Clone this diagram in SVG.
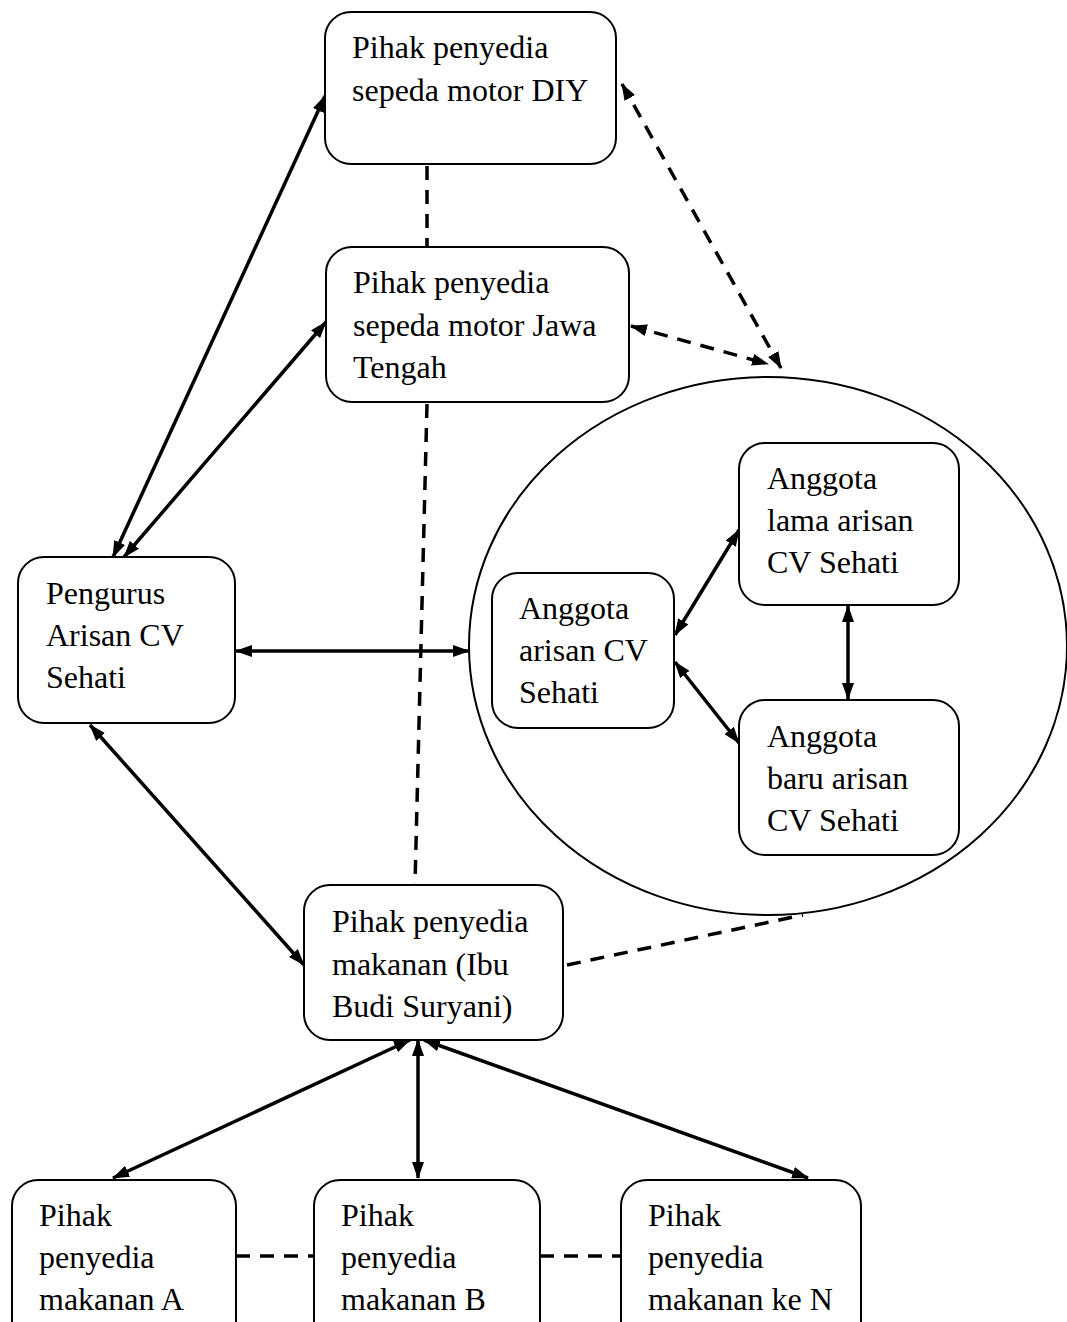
<svg xmlns="http://www.w3.org/2000/svg" width="1067" height="1322" viewBox="0 0 1067 1322">
<defs>
<style>
.box{fill:#fff;stroke:#000;stroke-width:2}
.t{font-family:"Liberation Serif","Times New Roman",serif;font-size:32px;fill:#000}
.c{fill:none;stroke:#000;stroke-width:3.5}
.d{fill:none;stroke:#000;stroke-width:3.5;stroke-dasharray:14 10}
</style>
<marker id="ah" viewBox="0 0 17 12" refX="16" refY="6" markerWidth="17" markerHeight="12" markerUnits="userSpaceOnUse" orient="auto-start-reverse">
<path d="M0,0 L17,6 L0,12 Z" fill="#000"/>
</marker>
</defs>
<rect width="1067" height="1322" fill="#fff"/>
<g id="group-ellipse">
<ellipse cx="768" cy="646" rx="299" ry="269" fill="none" stroke="#000" stroke-width="2"/>
</g>
<g id="connectors">
<line class="d" x1="427" y1="166" x2="427" y2="246"/>
<line class="d" x1="427" y1="404" x2="415" y2="884"/>
<line class="c" x1="325" y1="96" x2="113" y2="557" marker-start="url(#ah)" marker-end="url(#ah)"/>
<line class="c" x1="326" y1="322" x2="124" y2="557" marker-start="url(#ah)" marker-end="url(#ah)"/>
<line class="d" x1="622" y1="84" x2="781" y2="368" marker-start="url(#ah)" marker-end="url(#ah)"/>
<line class="d" x1="631" y1="326" x2="768" y2="364" marker-start="url(#ah)" marker-end="url(#ah)"/>
<line class="c" x1="236" y1="651" x2="469" y2="651" marker-start="url(#ah)" marker-end="url(#ah)"/>
<line class="c" x1="90" y1="725" x2="304" y2="965" marker-start="url(#ah)" marker-end="url(#ah)"/>
<line class="d" x1="567" y1="965" x2="803" y2="915"/>
<line class="c" x1="675" y1="635" x2="739" y2="530" marker-start="url(#ah)" marker-end="url(#ah)"/>
<line class="c" x1="675" y1="662" x2="739" y2="743" marker-start="url(#ah)" marker-end="url(#ah)"/>
<line class="c" x1="848" y1="606" x2="848" y2="699" marker-start="url(#ah)" marker-end="url(#ah)"/>
<line class="c" x1="410" y1="1040" x2="113" y2="1178" marker-start="url(#ah)" marker-end="url(#ah)"/>
<line class="c" x1="418" y1="1040" x2="418" y2="1178" marker-start="url(#ah)" marker-end="url(#ah)"/>
<line class="c" x1="424" y1="1040" x2="808" y2="1178" marker-start="url(#ah)" marker-end="url(#ah)"/>
<line class="d" x1="236" y1="1256" x2="314" y2="1256"/>
<line class="d" x1="540" y1="1256" x2="621" y2="1256"/>
</g>
<g id="node-diy">
<rect class="box" x="325" y="12" width="291" height="152" rx="26"/>
<text class="t" x="352" y="58">Pihak penyedia</text>
<text class="t" x="352" y="101">sepeda motor DIY</text>
</g>
<g id="node-jateng">
<rect class="box" x="326" y="247" width="303" height="155" rx="26"/>
<text class="t" x="353" y="293">Pihak penyedia</text>
<text class="t" x="353" y="336">sepeda motor Jawa</text>
<text class="t" x="353" y="378">Tengah</text>
</g>
<g id="node-pengurus">
<rect class="box" x="18" y="557" width="217" height="166" rx="26"/>
<text class="t" x="46" y="604">Pengurus</text>
<text class="t" x="46" y="646">Arisan CV</text>
<text class="t" x="46" y="688">Sehati</text>
</g>
<g id="node-anggota">
<rect class="box" x="492" y="573" width="182" height="155" rx="26"/>
<text class="t" x="519" y="619">Anggota</text>
<text class="t" x="519" y="661">arisan CV</text>
<text class="t" x="519" y="703">Sehati</text>
</g>
<g id="node-lama">
<rect class="box" x="739" y="443" width="220" height="162" rx="26"/>
<text class="t" x="767" y="489">Anggota</text>
<text class="t" x="767" y="531">lama arisan</text>
<text class="t" x="767" y="573">CV Sehati</text>
</g>
<g id="node-baru">
<rect class="box" x="739" y="700" width="220" height="155" rx="26"/>
<text class="t" x="767" y="747">Anggota</text>
<text class="t" x="767" y="789">baru arisan</text>
<text class="t" x="767" y="831">CV Sehati</text>
</g>
<g id="node-makanan">
<rect class="box" x="304" y="885" width="259" height="155" rx="26"/>
<text class="t" x="332" y="932">Pihak penyedia</text>
<text class="t" x="332" y="975">makanan (Ibu</text>
<text class="t" x="332" y="1017">Budi Suryani)</text>
</g>
<g id="node-a">
<rect class="box" x="12" y="1180" width="224" height="170" rx="26"/>
<text class="t" x="39" y="1226">Pihak</text>
<text class="t" x="39" y="1268">penyedia</text>
<text class="t" x="39" y="1310">makanan A</text>
</g>
<g id="node-b">
<rect class="box" x="314" y="1180" width="226" height="170" rx="26"/>
<text class="t" x="341" y="1226">Pihak</text>
<text class="t" x="341" y="1268">penyedia</text>
<text class="t" x="341" y="1310">makanan B</text>
</g>
<g id="node-n">
<rect class="box" x="621" y="1180" width="240" height="170" rx="26"/>
<text class="t" x="648" y="1226">Pihak</text>
<text class="t" x="648" y="1268">penyedia</text>
<text class="t" x="648" y="1310">makanan ke N</text>
</g>
</svg>
